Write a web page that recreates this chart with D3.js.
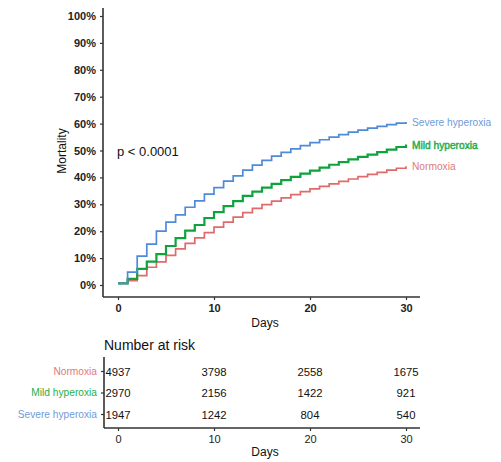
<!DOCTYPE html>
<html>
<head>
<meta charset="utf-8">
<script src="https://cdn.jsdelivr.net/npm/d3@7"></script>
<style>
  html, body { margin: 0; padding: 0; background: #fff; }
  text { font-family: Arial, "Liberation Sans", sans-serif; }
</style>
</head>
<body>
<svg id="chart" width="501" height="462"></svg>
<script>
// Cumulative mortality (%) by day, 0..30
const days = d3.range(0, 31);
const groups = ["Normoxia", "Mild hyperoxia", "Severe hyperoxia"];
const normoxia = [0.6, 1.6, 3.5, 6.6, 8.6, 11.0, 13.4, 15.5, 17.5, 19.5, 21.5, 23.4, 25.2, 26.9, 28.5,
  29.9, 31.2, 32.4, 33.6, 34.7, 35.7, 36.7, 37.6, 38.5, 39.4, 40.3, 41.1, 41.9, 42.7, 43.4, 44.1];
const mildHyperoxia = [0.6, 2.3, 6.0, 8.7, 11.5, 14.5, 17.4, 20.2, 22.3, 24.9, 27.1, 29.3, 31.2, 33.1, 34.7,
  36.2, 37.6, 39.0, 40.2, 41.4, 42.5, 43.6, 44.7, 45.7, 46.7, 47.6, 48.5, 49.4, 50.3, 51.3, 52.2];
const severeHyperoxia = [0.6, 4.8, 10.7, 15.2, 20.0, 23.4, 26.1, 28.9, 31.3, 33.8, 36.2, 38.6, 40.6, 42.7, 44.6,
  46.3, 47.9, 49.3, 50.6, 51.8, 52.9, 54.0, 55.0, 55.9, 56.8, 57.6, 58.3, 59.0, 59.6, 60.2, 60.6];
const yTicks = [0, 10, 20, 30, 40, 50, 60, 70, 80, 90, 100];
const xTicks = [0, 10, 20, 30];
// Number at risk at days 0, 10, 20, 30
const riskNormoxia = [4937, 3798, 2558, 1675];
const riskMild = [2970, 2156, 1422, 921];
const riskSevere = [1947, 1242, 804, 540];

const lineColors = { "Normoxia": "#e06a6a", "Mild hyperoxia": "#0ea33c", "Severe hyperoxia": "#4f8ad9" };
const labelColors = { "Normoxia": "#e07a7a", "Mild hyperoxia": "#1fae4e", "Severe hyperoxia": "#6f9bd8" };
const seriesByGroup = { "Normoxia": normoxia, "Mild hyperoxia": mildHyperoxia, "Severe hyperoxia": severeHyperoxia };
const riskByGroup = { "Normoxia": riskNormoxia, "Mild hyperoxia": riskMild, "Severe hyperoxia": riskSevere };

const svg = d3.select("#chart");
const axisColor = "#333";

// Main survival panel
const x = d3.scaleLinear().domain([0, 30]).range([118, 406]);
const y = d3.scaleLinear().domain([0, 100]).range([285, 16]);

const gx = svg.append("g").attr("transform", "translate(0,297)")
  .call(d3.axisBottom(x).tickValues(xTicks).tickSize(3).tickPadding(4));
gx.select(".domain").attr("d", "M103,0H420");
const gy = svg.append("g").attr("transform", "translate(103,0)")
  .call(d3.axisLeft(y).tickValues(yTicks).tickFormat(d => d + "%").tickSize(3).tickPadding(4));
gy.select(".domain").attr("d", "M0,8V297");

[gx, gy].forEach(g => {
  g.select(".domain").attr("stroke", axisColor).attr("stroke-width", 1.6);
  g.selectAll(".tick line").attr("stroke", axisColor).attr("stroke-width", 1.2);
  g.selectAll(".tick text").attr("fill", "#222").attr("font-size", 11)
    .attr("font-family", "Arial, 'Liberation Sans', sans-serif").attr("font-weight", "bold");
});

svg.append("text").attr("x", 265).attr("y", 327).attr("text-anchor", "middle")
  .attr("font-size", 12).attr("fill", "#111").text("Days");
svg.append("text").attr("transform", "translate(66,151) rotate(-90)").attr("text-anchor", "middle")
  .attr("font-size", 12).attr("fill", "#111").text("Mortality");
svg.append("text").attr("x", 117).attr("y", 156).attr("font-size", 13).attr("fill", "#111").text("p < 0.0001");

const line = d3.line().x((d, i) => x(days[i])).y(d => y(d)).curve(d3.curveStepAfter);
groups.forEach(g => {
  svg.append("path").datum(seriesByGroup[g])
    .attr("fill", "none").attr("stroke", lineColors[g])
    .attr("stroke-width", g === "Mild hyperoxia" ? 2.2 : 1.7)
    .attr("d", line);
});

// End-of-curve labels
groups.forEach(g => {
  const v = seriesByGroup[g][seriesByGroup[g].length - 1];
  svg.append("text").attr("x", x(30) + 6).attr("y", y(v) + 4)
    .attr("font-size", 10.2).attr("fill", labelColors[g])
    .attr("stroke", g === "Mild hyperoxia" ? labelColors[g] : "none")
    .attr("stroke-width", 0.45)
    .text(g);
});

// Number at risk table
svg.append("text").attr("x", 104).attr("y", 350).attr("font-size", 14).attr("fill", "#111").text("Number at risk");

const rowY = d3.scalePoint().domain(groups).range([371, 414]);
const tx = svg.append("g").attr("transform", "translate(0,428)")
  .call(d3.axisBottom(x).tickValues(xTicks).tickSize(3).tickPadding(4));
tx.select(".domain").attr("d", "M104,0H420");
const ty = svg.append("g").attr("transform", "translate(104,0)")
  .call(d3.axisLeft(rowY).tickSize(3).tickPadding(4));
ty.select(".domain").attr("d", "M0,357V428");
[tx, ty].forEach(g => {
  g.select(".domain").attr("stroke", axisColor).attr("stroke-width", 1.6);
  g.selectAll(".tick line").attr("stroke", axisColor).attr("stroke-width", 1.2);
  g.selectAll(".tick text").attr("font-family", "Arial, 'Liberation Sans', sans-serif");
});
tx.selectAll(".tick text").attr("fill", "#222").attr("font-size", 11);
ty.selectAll(".tick text").attr("fill", d => labelColors[d]).attr("font-size", 10.2);

svg.append("text").attr("x", 265).attr("y", 456).attr("text-anchor", "middle")
  .attr("font-size", 12).attr("fill", "#111").text("Days");

groups.forEach(g => {
  riskByGroup[g].forEach((n, i) => {
    svg.append("text").attr("x", x(xTicks[i])).attr("y", rowY(g) + 4.5)
      .attr("text-anchor", "middle").attr("font-size", 11.3).attr("fill", "#111").text(n);
  });
});
</script>
</body>
</html>
